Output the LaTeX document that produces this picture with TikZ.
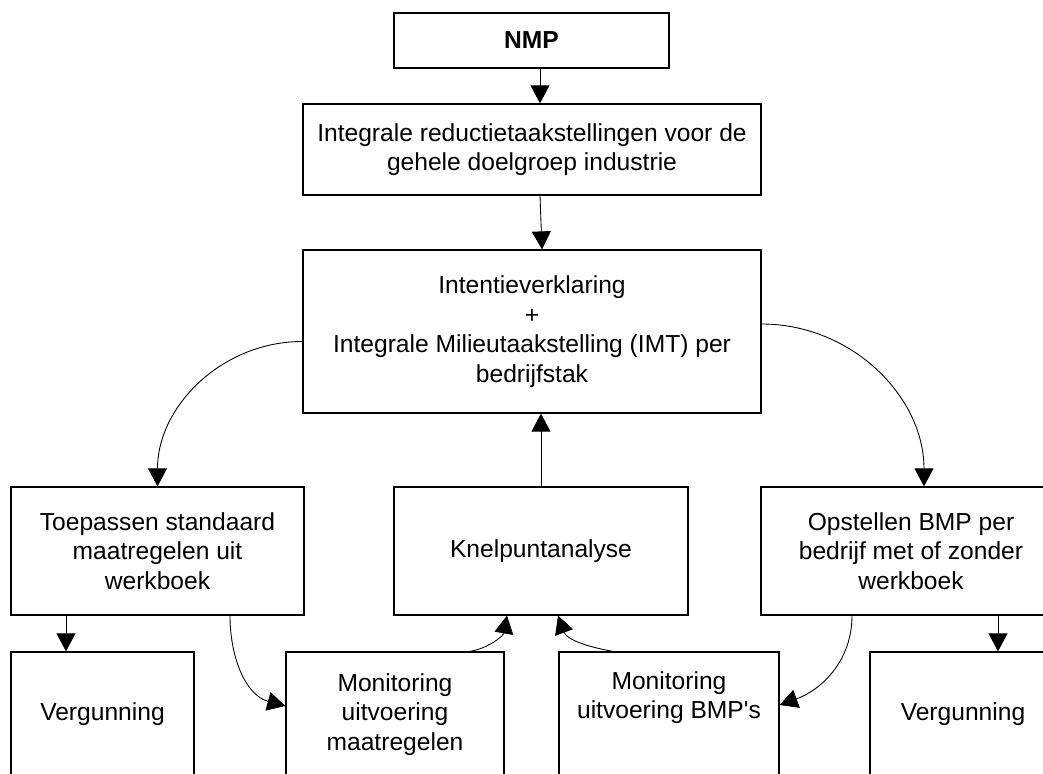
\documentclass[tikz,border=0pt]{standalone}
\usepackage{fontspec}
\setmainfont{Liberation Sans}
\usetikzlibrary{arrows.meta}

\begin{document}
\begin{tikzpicture}[
    box/.style={rectangle, draw=black, line width=0.7pt, inner sep=0pt, align=center, font=\fontsize{14}{16.8}\selectfont},
    conn/.style={draw=black, line width=0.5pt, -{Triangle[length=0.36cm, width=0.38cm]}}
]

% Page frame
\useasboundingbox (0,0) rectangle (20.86,15.46);
\clip (0,0) rectangle (20.86,15.46);

% Top column
\node[box, minimum width=5.5cm, minimum height=1.1cm, font=\fontsize{14}{16.8}\selectfont\bfseries] (nmp) at (10.63,14.65) {NMP};
\node[box, minimum width=9.16cm, minimum height=1.82cm] (ir) at (10.64,12.47) {Integrale reductietaakstellingen voor de\\gehele doelgroep industrie};
\node[box, minimum width=9.16cm, minimum height=3.26cm] (intent) at (10.64,8.83) {Intentieverklaring\\+\\Integrale Milieutaakstelling (IMT) per\\bedrijfstak};

% Middle row
\node[box, minimum width=5.86cm, minimum height=2.56cm] (toep) at (3.15,4.44) {Toepassen standaard\\maatregelen uit\\werkboek};
\node[box, minimum width=5.88cm, minimum height=2.56cm] (knel) at (10.82,4.44) {Knelpuntanalyse};
\node[box, minimum width=6cm, minimum height=2.56cm] (opst) at (18.22,4.44) {Opstellen BMP per\\bedrijf met of zonder\\werkboek};

% Bottom row (cut off by the page)
\node[box, minimum width=3.66cm, minimum height=2.5cm] (vergl) at (2.05,1.17) {Vergunning};
\node[box, minimum width=4.36cm, minimum height=2.5cm] (monm) at (7.9,1.17) {Monitoring\\uitvoering\\maatregelen};
\node[box, minimum width=4.4cm, minimum height=2.5cm] (monb) at (13.38,1.17) {Monitoring\\uitvoering BMP\textquotesingle s\\\strut};
\node[box, minimum width=3.72cm, minimum height=2.5cm] (vergr) at (19.26,1.17) {Vergunning};

% Connectors
\draw[conn] ([xshift=0.17cm]nmp.south) -- ([xshift=0.17cm]nmp.south |- ir.north);
\draw[conn] ([xshift=0.16cm]ir.south) -- ([xshift=0.2cm]intent.north);
\draw[conn] (knel.north) -- (knel.north |- intent.south);
\draw[conn] ([yshift=-0.2cm]intent.west) to[out=180,in=90] (toep.north);
\draw[conn] ([yshift=0.15cm]intent.east) to[out=0,in=90] ([xshift=0.26cm]opst.north);
\draw[conn] ([xshift=-1.83cm]toep.south) -- ([xshift=-1.83cm]toep.south |- vergl.north);
\draw[conn] ([xshift=1.45cm]toep.south) to[out=-90,in=165] ([yshift=0.17cm]monm.west);
\draw[conn] ([xshift=1.5cm]monm.north) to[out=10,in=-100] ([xshift=-0.68cm]knel.south);
\draw[conn] ([xshift=-1.12cm]monb.north) to[out=170,in=-70] ([xshift=0.34cm]knel.south);
\draw[conn] ([xshift=-1.18cm]opst.south) to[out=-90,in=20] ([yshift=0.19cm]monb.east);
\draw[conn] ([xshift=1.74cm]opst.south) -- ([xshift=1.74cm]opst.south |- vergr.north);

\end{tikzpicture}
\end{document}
